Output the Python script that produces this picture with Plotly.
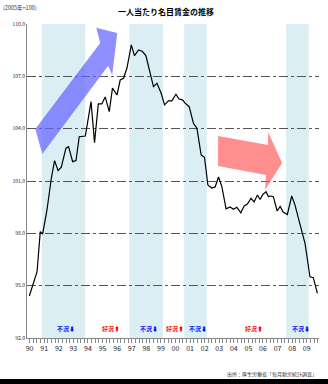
import plotly.graph_objects as go

# ---- data (quarterly, index 2005 = 100) ----
years = [1989.98, 1990.51, 1990.73, 1990.89, 1991.19, 1991.49, 1991.71, 1991.95, 1992.17, 1992.49,
         1992.67, 1992.95, 1993.18, 1993.40, 1993.82, 1994.21, 1994.45, 1994.71, 1994.95, 1995.18,
         1995.46, 1995.68, 1995.99, 1996.21, 1996.44, 1996.67, 1996.97, 1997.19, 1997.47, 1997.74,
         1997.97, 1998.27, 1998.49, 1998.73, 1999.02, 1999.25, 1999.52, 1999.75, 2000.03, 2000.25,
         2000.48, 2000.66, 2000.94, 2001.23, 2001.47, 2001.76, 2001.99, 2002.22, 2002.48, 2002.72,
         2002.95, 2003.18, 2003.47, 2003.75, 2003.97, 2004.21, 2004.48, 2004.71, 2004.93, 2005.18,
         2005.39, 2005.62, 2005.80, 2005.99, 2006.21, 2006.37, 2006.55, 2006.71, 2006.97, 2007.18,
         2007.38, 2007.67, 2007.97, 2008.19, 2008.53, 2008.88, 2009.22, 2009.45, 2009.73]
wage_index = [94.41, 95.80, 98.10, 97.96, 99.34, 101.17, 102.17, 101.59, 101.79, 102.88,
              102.97, 102.11, 102.17, 103.54, 103.58, 105.55, 103.20, 105.42, 105.42, 105.82,
              104.98, 106.32, 105.93, 106.79, 106.89, 107.46, 108.80, 108.19, 108.51, 108.42,
              108.19, 107.08, 106.41, 106.60, 106.03, 105.36, 105.59, 105.59, 105.97, 105.70,
              105.65, 105.46, 105.26, 104.31, 104.02, 102.49, 102.36, 100.77, 100.60, 100.66,
              101.23, 100.68, 99.40, 99.51, 99.38, 99.49, 99.18, 99.57, 99.68, 100.01,
              99.80, 100.20, 99.94, 100.23, 100.39, 100.11, 100.14, 100.10, 99.28, 99.54,
              99.22, 99.08, 100.14, 99.63, 98.58, 97.43, 95.51, 95.46, 94.56]

# recession periods (shaded)
recession_start = [1990.85, 1996.85, 2000.60, 2007.58]
recession_end = [1993.81, 1999.14, 2002.15, 2009.13]

# business-cycle labels
cycle_labels = ["不況⬇", "好況⬆", "不況⬇", "好況⬆", "不況⬇", "好況⬆", "不況⬇"]
cycle_x = [1992.48, 1995.58, 1998.18, 1999.99, 2001.55, 2005.36, 2008.58]
cycle_colors = ["#1010F0", "#F01010", "#1010F0", "#F01010", "#1010F0", "#F01010", "#1010F0"]

tick_years = list(range(1990, 2010))
tick_labels = [f"{y % 100:02d}" for y in tick_years]
y_ticks = [92, 95, 98, 101, 104, 107, 110]
y_tick_labels = [f"{v:.1f}" for v in y_ticks]

# decorative arrows (year, index)
blue_arrow = [(1990.39, 103.98), (1994.84, 108.91), (1994.57, 109.78), (1996.01, 109.49),
              (1995.66, 107.08), (1995.39, 107.60), (1990.87, 102.55)]
red_arrow = [(2002.92, 103.58), (2006.35, 103.07), (2006.35, 103.81), (2007.31, 102.03),
             (2006.14, 100.49), (2006.21, 101.35), (2002.92, 101.86)]


def poly_path(pts):
    return "M " + " L ".join(f"{x},{y}" for x, y in pts) + " Z"


fig = go.Figure()
fig.add_trace(go.Scatter(x=years, y=wage_index, mode="lines",
                         line=dict(color="black", width=1.2), showlegend=False,
                         hoverinfo="skip"))

shapes = []
for s, e in zip(recession_start, recession_end):
    shapes.append(dict(type="rect", xref="x", yref="paper", x0=s, x1=e, y0=0, y1=1,
                       fillcolor="#DAEEF3", line=dict(width=0), layer="below"))
shapes.append(dict(type="path", xref="x", yref="y", path=poly_path(blue_arrow),
                   fillcolor="rgba(100,100,255,0.72)", line=dict(width=0), layer="above"))
shapes.append(dict(type="path", xref="x", yref="y", path=poly_path(red_arrow),
                   fillcolor="rgba(255,100,100,0.72)", line=dict(width=0), layer="above"))
# black strip at bottom of image
shapes.append(dict(type="rect", xref="paper", yref="paper", x0=-0.2, x1=1.2,
                   y0=-0.16, y1=-0.1306, fillcolor="black", line=dict(width=0)))

annotations = []
for t, x, c in zip(cycle_labels, cycle_x, cycle_colors):
    annotations.append(dict(x=x, y=92.57, xref="x", yref="y", text=f"<b>{t}</b>",
                            showarrow=False, font=dict(size=6, color=c,
                                                       family="Noto Sans CJK JP")))
annotations.append(dict(x=-0.09, y=1.052, xref="paper", yref="paper", xanchor="left",
                        yanchor="middle", text="(2005年=100)", showarrow=False,
                        font=dict(size=5.5, color="#333", family="Noto Sans CJK JP")))
annotations.append(dict(x=0.475, y=1.04, xref="paper", yref="paper", xanchor="center",
                        yanchor="middle", text="<b>一人当たり名目賃金の推移</b>",
                        showarrow=False,
                        font=dict(size=8, color="black", family="Noto Sans CJK JP")))
annotations.append(dict(x=1.0, y=-0.115, xref="paper", yref="paper", xanchor="right",
                        yanchor="middle", text="出所：厚生労働省「毎月勤労統計調査」",
                        showarrow=False,
                        font=dict(size=5, color="#333", family="Noto Sans CJK JP")))

fig.update_layout(
    width=328, height=384, autosize=False,
    margin=dict(l=26.7, r=9, t=24, b=46),
    paper_bgcolor="white", plot_bgcolor="white",
    shapes=shapes, annotations=annotations,
    font=dict(family="Noto Sans CJK JP", color="#222"),
)
fig.update_xaxes(range=[1989.82, 2009.84], tickmode="array", tickvals=tick_years,
                 ticktext=tick_labels, ticks="outside", ticklen=4, tickcolor="#888",
                 showline=True, linecolor="#888", linewidth=1, showgrid=False,
                 zeroline=False, tickfont=dict(size=7, color="#222"),
                 minor=dict(tickmode="linear", tick0=1990, dtick=0.25, ticks="outside",
                            ticklen=4, tickcolor="#888", showgrid=False))
fig.update_yaxes(range=[92, 110], tickmode="array", tickvals=y_ticks,
                 ticktext=y_tick_labels, ticks="", showline=True, linecolor="#888",
                 linewidth=1, showgrid=True, gridcolor="#555", griddash="dashdot",
                 gridwidth=1, zeroline=False, tickfont=dict(size=5, color="#222"))

fig.write_html("out.html")
